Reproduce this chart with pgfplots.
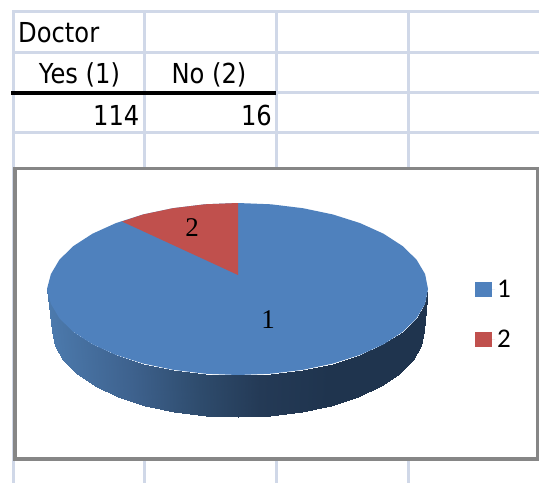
\documentclass[border=0pt]{standalone}
\usepackage{fontspec}
\setmainfont[FakeStretch=0.88]{DejaVu Sans}
\newfontfamily\piefont{Liberation Serif}
\newfontfamily\legfont{Carlito}
\usepackage{pgfplots}
\usepackage{pgfplotstable}
\pgfplotsset{compat=1.18}

\definecolor{pieblue}{RGB}{79,129,189}
\definecolor{piered}{RGB}{192,80,77}
\definecolor{cellgrid}{RGB}{208,216,232}
\definecolor{framegray}{RGB}{134,134,134}

% outer wall of the pie, upper rim then lower rim
\pgfplotstableread{
x y c
47 289 47
50.9 303.9 50.9
59.5 318.4 59.5
73.5 332 73.5
92.5 344.3 92.5
115.9 354.9 115.9
143 363.5 143
173 369.8 173
205 373.7 205
238 375 238
271 373.7 271
303 369.8 303
333 363.5 333
360.1 354.9 360.1
383.5 344.3 383.5
402.5 332 402.5
416.5 318.4 416.5
425.1 303.9 425.1
428 289 428
52 331 47
54.8 345.9 50.9
63.2 360.4 59.5
76.9 374 73.5
95.5 386.3 92.5
118.4 396.9 115.9
145 405.5 143
174.4 411.8 173
205.7 415.7 205
238 417 238
270.3 415.7 271
301.6 411.8 303
331 405.5 333
357.6 396.9 360.1
380.5 386.3 383.5
399.1 374 402.5
412.8 360.4 416.5
421.2 345.9 425.1
424 331 428
}\sidewall

\begin{document}
\begin{tikzpicture}
\begin{axis}[
    scale only axis,
    width=539pt, height=483pt,
    xmin=0, xmax=539, ymin=0, ymax=483,
    y dir=reverse,
    hide axis,
    clip=true,
    colormap={wall}{
        rgb255(47)=(76,122,173)
        rgb255(130)=(62,98,142)
        rgb255(200)=(46,75,108)
        rgb255(260)=(36,58,86)
        rgb255(330)=(31,52,78)
        rgb255(428)=(31,52,78)},
    point meta min=47, point meta max=428,
    legend style={at={(axis cs:475,278)}, anchor=north west, draw=none, fill=none,
        font=\legfont\fontsize{27}{27}\selectfont,
        row sep=27pt, inner sep=0pt, cells={anchor=west}},
    legend image code/.code={\fill[#1] (0pt,-7.5pt) rectangle (17pt,7.5pt);
        \path (0pt,0pt) -- (20pt,0pt);},
]
% keep the whole sheet in the page
\path (axis cs:0,0) rectangle (axis cs:539,483);

% sheet grid
\addplot[cellgrid, line width=3pt, forget plot] coordinates {(12,11) (539,11)};
\addplot[cellgrid, line width=3pt, forget plot] coordinates {(12,52) (539,52)};
\addplot[cellgrid, line width=3pt, forget plot] coordinates {(276,92.5) (539,92.5)};
\addplot[cellgrid, line width=3pt, forget plot] coordinates {(12,132) (539,132)};
\addplot[cellgrid, line width=3pt, forget plot] coordinates {(13,10) (13,483)};
\addplot[cellgrid, line width=3pt, forget plot] coordinates {(144,10) (144,483)};
\addplot[cellgrid, line width=3pt, forget plot] coordinates {(276,10) (276,483)};
\addplot[cellgrid, line width=3pt, forget plot] coordinates {(408,10) (408,483)};
\addplot[black, line width=4pt, forget plot] coordinates {(11,92.5) (276,92.5)};

% chart area
\addplot[fill=white, draw=framegray, line width=3.5pt, forget plot] coordinates {(15,168.5) (537.5,168.5) (537.5,459) (15,459)} -- cycle;

% pie wall and top
\addplot[surf, shader=interp, mesh/rows=2, point meta=explicit, forget plot] table[x=x, y=y, meta=c] {\sidewall};
\addplot[fill=pieblue, draw=none] coordinates {
    (428,289) (425.1,274.1) (416.5,259.6) (402.5,246) (383.5,233.7) (360.1,223.1)
    (333,214.5) (303,208.2) (271,204.3) (238,203) (205,204.3) (173,208.2) (143,214.5)
    (115.9,223.1) (92.5,233.7) (73.5,246) (59.5,259.6) (50.9,274.1) (47,289)
    (50.9,303.9) (59.5,318.4) (73.5,332) (92.5,344.3) (115.9,354.9) (143,363.5)
    (173,369.8) (205,373.7) (238,375) (271,373.7) (303,369.8) (333,363.5)
    (360.1,354.9) (383.5,344.3) (402.5,332) (416.5,318.4) (425.1,303.9)
} -- cycle;
\addlegendentry{1}
\addplot[fill=piered, draw=none] coordinates {
    (238,275) (238,203) (205,204.3) (173,208.2) (143,214.5) (122,221.5)
} -- cycle;
\addlegendentry{2}

% sheet cells
\node[anchor=west, inner sep=0pt, font=\fontsize{27.5}{27.5}\selectfont] at (axis cs:18,33) {Doctor};
\node[inner sep=0pt, font=\fontsize{27.5}{27.5}\selectfont] at (axis cs:79.5,75) {Yes (1)};
\node[inner sep=0pt, font=\fontsize{27.5}{27.5}\selectfont] at (axis cs:209,75) {No (2)};
\node[anchor=east, inner sep=0pt, font=\fontsize{27.5}{27.5}\selectfont] at (axis cs:139.5,115) {114};
\node[anchor=east, inner sep=0pt, font=\fontsize{27.5}{27.5}\selectfont] at (axis cs:272,115) {16};

% slice labels
\node[font=\piefont\fontsize{27}{27}\selectfont] at (axis cs:268,320) {1};
\node[font=\piefont\fontsize{27}{27}\selectfont] at (axis cs:192,228) {2};
\end{axis}
\end{tikzpicture}
\end{document}
